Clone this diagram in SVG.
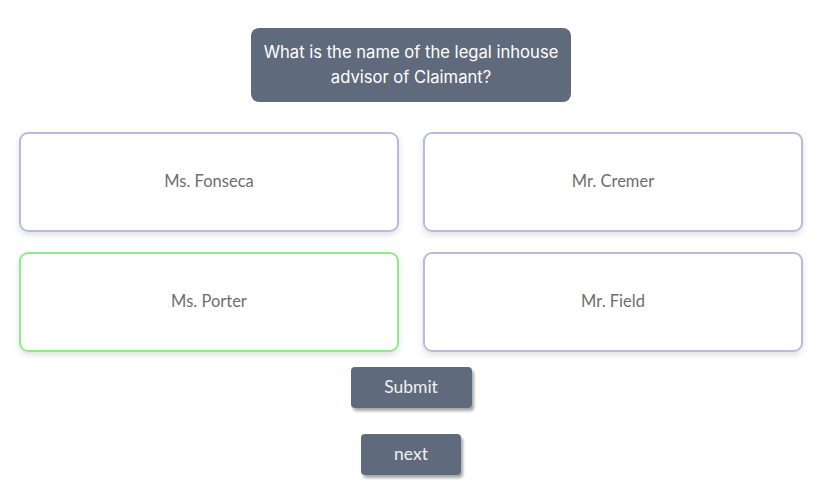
<svg xmlns="http://www.w3.org/2000/svg" width="822" height="497" viewBox="0 0 822 497">
<defs>
<filter id="cardShadow" x="-10%" y="-20%" width="120%" height="150%">
<feDropShadow dx="0" dy="3" stdDeviation="3" flood-color="#000" flood-opacity="0.12"/>
</filter>
<filter id="btnShadow" x="-10%" y="-20%" width="130%" height="160%">
<feDropShadow dx="2" dy="3" stdDeviation="1.5" flood-color="#000" flood-opacity="0.35"/>
</filter>
</defs>
<style>
.card{fill:#fff;stroke:#b4bddc;stroke-width:2;filter:url(#cardShadow)}
.ok{stroke:#8eea8a}
.ans{font-family:Lato,"Noto Sans",sans-serif;font-size:16.5px;fill:#6e6e6e;text-anchor:middle}
.btn{fill:#5f6b7d;filter:url(#btnShadow)}
.btxt{font-family:Lato,"Noto Sans",sans-serif;font-size:17.5px;fill:#f0f0f0;text-anchor:middle}
.q{font-family:Inter,"Noto Sans",sans-serif;font-size:16.6px;fill:#fff;text-anchor:middle}
</style>
<rect width="822" height="497" fill="#fff"/>
<g id="question">
<rect x="251" y="28" width="320" height="74" rx="8" fill="#5f6b7d"/>
<text class="q" x="411" y="58">What is the name of the legal inhouse</text>
<text class="q" x="411" y="83">advisor of Claimant?</text>
</g>
<g id="answer-fonseca">
<rect class="card" x="20" y="133" width="378" height="98" rx="8"/>
<text class="ans" x="209" y="187">Ms. Fonseca</text>
</g>
<g id="answer-cremer">
<rect class="card" x="424" y="133" width="378" height="98" rx="8"/>
<text class="ans" x="613" y="187">Mr. Cremer</text>
</g>
<g id="answer-porter">
<rect class="card ok" x="20" y="253" width="378" height="98" rx="8"/>
<text class="ans" x="209" y="307">Ms. Porter</text>
</g>
<g id="answer-field">
<rect class="card" x="424" y="253" width="378" height="98" rx="8"/>
<text class="ans" x="613" y="307">Mr. Field</text>
</g>
<g id="submit">
<rect class="btn" x="351" y="367" width="121" height="41" rx="4"/>
<text class="btxt" x="411" y="393">Submit</text>
</g>
<g id="next">
<rect class="btn" x="361" y="434" width="100" height="41" rx="4"/>
<text class="btxt" x="411" y="460">next</text>
</g>
<g id="connectors"></g>
</svg>
